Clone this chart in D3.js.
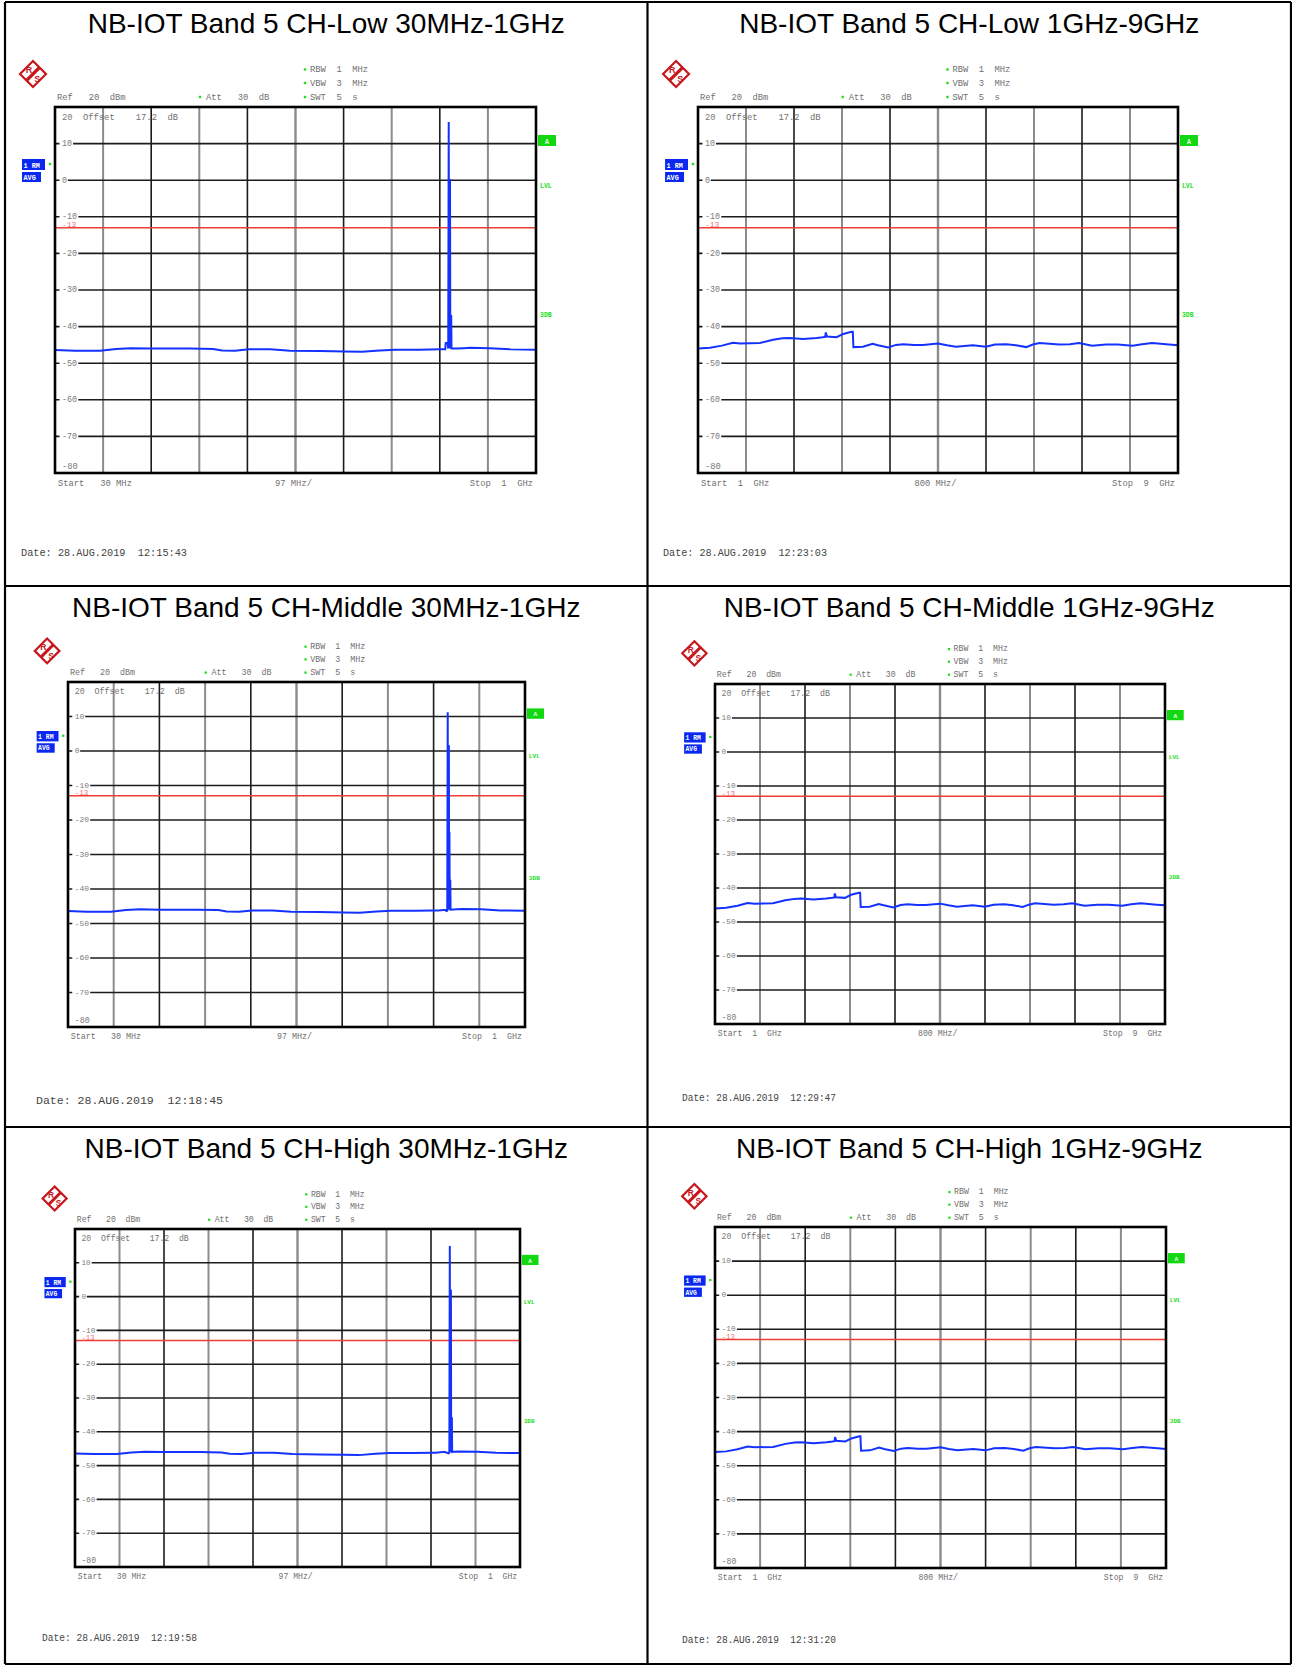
<!DOCTYPE html>
<html>
<head>
<meta charset="utf-8">
<script src="https://cdn.jsdelivr.net/npm/d3@7"></script>
<style>
  body { margin: 0; background: #fff; }
  text.pre { white-space: pre; }
</style>
</head>
<body>
<div id="chart"></div>
<script>
// ---- data ----
const titles = [
  'NB-IOT Band 5 CH-Low 30MHz-1GHz',
  'NB-IOT Band 5 CH-Low 1GHz-9GHz',
  'NB-IOT Band 5 CH-Middle 30MHz-1GHz',
  'NB-IOT Band 5 CH-Middle 1GHz-9GHz',
  'NB-IOT Band 5 CH-High 30MHz-1GHz',
  'NB-IOT Band 5 CH-High 1GHz-9GHz'
];
const dates = [
  'Date: 28.AUG.2019  12:15:43',
  'Date: 28.AUG.2019  12:23:03',
  'Date: 28.AUG.2019  12:18:45',
  'Date: 28.AUG.2019  12:29:47',
  'Date: 28.AUG.2019  12:19:58',
  'Date: 28.AUG.2019  12:31:20'
];

// [MHz, dBm] noise floor of the 30 MHz - 1 GHz sweeps
const lowBandFloor = [
  [30, -46.4], [70, -46.6], [121, -46.6], [153, -46.1], [183, -45.9], [222, -46.0],
  [302, -46.0], [349, -46.1], [367, -46.5], [393, -46.6], [421, -46.2], [464, -46.2],
  [504, -46.6], [564, -46.7], [615, -46.8], [649, -46.9], [685, -46.5], [716, -46.3],
  [766, -46.3], [806, -46.2], [816, -46.2], [832, -46.0], [837, -46.0], [855, -45.9],
  [867, -45.8], [907, -45.9], [948, -46.2], [1000, -46.3]
];
// [MHz, dBm] carrier region of each channel
const spikeLow = [
  [817, -46.2], [818, -44.5], [822, -44.5], [823, -46], [824, 15.9], [824.7, -46],
  [825.3, 0.3], [826, -46], [826.6, 0.3], [827.2, -46], [829, -36.8], [829.6, -46.0]
];
const spikeMid = [
  [833, -46.4], [835, -46.3], [836, 11.2], [836.6, -46], [837.2, 1.7], [837.8, -46],
  [838.4, 1.7], [839, -46], [839.6, -23.5], [840.2, -46], [841.4, -37.3], [842, -46.0]
];
const spikeHigh = [
  [844, -46.4], [846, -46.2], [847, 15.0], [847.6, -46], [848.2, 2.0], [848.8, -46],
  [849.4, 2.0], [850, -46], [851.5, -35.7], [852.1, -46.0]
];
// [GHz, dBm] 1 - 9 GHz sweep
const highBandTrace = [
  [1.0, -46.0], [1.2, -45.8], [1.4, -45.2], [1.58, -44.4], [1.7, -44.6], [2.03, -44.5],
  [2.25, -43.6], [2.41, -43.2], [2.53, -43.1], [2.75, -43.4], [2.98, -43.1], [3.08, -42.9],
  [3.12, -42.8], [3.13, -41.6], [3.15, -42.7], [3.31, -42.9], [3.42, -42.0], [3.56, -41.4],
  [3.58, -41.4], [3.59, -45.6], [3.75, -45.5], [3.91, -44.7], [4.0, -45.1], [4.17, -45.7],
  [4.3, -45.0], [4.42, -44.8], [4.6, -45.0], [4.75, -45.0], [5.0, -44.6], [5.15, -45.1],
  [5.3, -45.5], [5.58, -45.1], [5.8, -45.5], [5.95, -44.9], [6.14, -44.8], [6.3, -45.1],
  [6.47, -45.6], [6.58, -44.9], [6.69, -44.5], [7.02, -44.9], [7.2, -44.8], [7.35, -44.5],
  [7.57, -45.2], [7.8, -44.9], [8.0, -44.9], [8.24, -45.2], [8.4, -44.8], [8.57, -44.5],
  [8.85, -44.9], [9.0, -45.1]
];
const spikes = [spikeLow, null, spikeMid, null, spikeHigh, null];
const lowAxisText = ['Start   30 MHz', '97 MHz/', 'Stop  1  GHz'];
const highAxisText = ['Start  1  GHz', '800 MHz/', 'Stop  9  GHz'];
const levelTicks = [10, 0, -10, -20, -30, -40, -50, -60, -70];
const limitLevel = -13;

// ---- layout ----
const W = 1292, H = 1665;
const colX = [5, 647.5, 1291];
const rowY = [2, 586, 1127, 1664];
const panels = [
  {frame: [55, 107, 536, 473], date: [21, 556, 166]},
  {frame: [698, 107, 1178, 473], date: [663, 556, 164]},
  {frame: [68, 682, 525, 1027], date: [36, 1104, 187]},
  {frame: [715, 684, 1165, 1024], date: [682, 1101, 154]},
  {frame: [75, 1229, 520, 1567], date: [42, 1641, 155]},
  {frame: [715, 1227, 1166, 1568], date: [682, 1643, 154]}
];

const svg = d3.select('#chart').append('svg')
    .attr('width', W)
    .attr('height', H);
svg.append('rect').attr('width', W).attr('height', H).attr('fill', '#fff');

const mono = '"Liberation Mono", "DejaVu Sans Mono", monospace';
const gray = '#707070';
const green = '#22dd22';

const buildTrace = (i) => {
  if (i % 2 === 1) return highBandTrace;
  const sp = spikes[i];
  const lo = sp[0][0], hi = sp[sp.length - 1][0];
  return lowBandFloor.filter((d) => d[0] < lo)
      .concat(sp)
      .concat(lowBandFloor.filter((d) => d[0] > hi));
};

const drawPanel = (p, i) => {
  const [x0, y0, x1, y1] = p.frame;
  const sx = (x1 - x0) / 481;
  const sy = (y1 - y0) / 366;
  const isLow = i % 2 === 0;
  const col = i % 2, row = Math.floor(i / 2);
  const x = d3.scaleLinear().domain(isLow ? [30, 1000] : [1, 9]).range([x0, x1]);
  const y = d3.scaleLinear().domain([-80, 20]).range([y1, y0]);
  const rx = (v) => x0 + v * sx;
  const ry = (v) => y0 + v * sy;
  const fs = 8.8 * sx;
  const g = svg.append('g');

  const txt = (xx, yy, str, color, size, anchor) => g.append('text')
      .attr('class', 'pre')
      .attr('xml:space', 'preserve')
      .attr('x', xx).attr('y', yy)
      .attr('text-anchor', anchor || 'start')
      .attr('font-family', mono)
      .attr('font-size', size || fs)
      .attr('fill', color || gray)
      .text(str);
  const dot = (xx, yy) => g.append('rect')
      .attr('x', xx - 1.2 * sx).attr('y', yy - 1.2 * sx)
      .attr('width', 2.4 * sx).attr('height', 2.4 * sx)
      .attr('fill', green);

  // title
  g.append('text')
      .attr('x', (colX[col] + colX[col + 1]) / 2)
      .attr('y', rowY[row] + 31)
      .attr('text-anchor', 'middle')
      .attr('font-family', '"Liberation Sans", Arial, sans-serif')
      .attr('font-size', 28)
      .attr('fill', '#000')
      .text(titles[i]);

  // R&S logo
  const s = 13 * sx;
  const logo = g.append('g')
      .attr('transform', `translate(${rx(-22)},${ry(-33)})`);
  logo.append('path')
      .attr('d', `M0,${-s}L${s},0L0,${s}L${-s},0Z`)
      .attr('fill', '#fff').attr('stroke', '#c8161d').attr('stroke-width', 2.2);
  logo.append('line')
      .attr('x1', -s * 0.5).attr('y1', s * 0.5).attr('x2', s * 0.5).attr('y2', -s * 0.5)
      .attr('stroke', '#c8161d').attr('stroke-width', 3.2 * sx);
  logo.append('text').attr('x', -s * 0.3).attr('y', -s * 0.05)
      .attr('text-anchor', 'middle').attr('font-family', '"Liberation Sans", Arial')
      .attr('font-weight', 'bold').attr('font-size', 9 * sx).attr('fill', '#c8161d').text('R');
  logo.append('text').attr('x', s * 0.32).attr('y', s * 0.62)
      .attr('text-anchor', 'middle').attr('font-family', '"Liberation Sans", Arial')
      .attr('font-weight', 'bold').attr('font-size', 9 * sx).attr('fill', '#c8161d').text('S');

  // header settings
  dot(rx(250), ry(-37.5)); txt(rx(255), ry(-35), 'RBW  1  MHz');
  dot(rx(250), ry(-24)); txt(rx(255), ry(-21.5), 'VBW  3  MHz');
  txt(rx(2), ry(-7.5), 'Ref   20  dBm');
  dot(rx(145), ry(-10)); txt(rx(151), ry(-7.5), 'Att   30  dB');
  dot(rx(250), ry(-10)); txt(rx(255), ry(-7.5), 'SWT  5  s');

  // grid
  const dom = x.domain();
  const xGrid = d3.range(1, 10).map((k) => dom[0] + k * (dom[1] - dom[0]) / 10);
  g.append('g').selectAll('line').data(xGrid).join('line')
      .attr('x1', (d) => x(d)).attr('x2', (d) => x(d))
      .attr('y1', y0).attr('y2', y1)
      .attr('stroke', (d, k) => (k % 2 === 0 ? '#8c8c8c' : '#1c1c1c'))
      .attr('stroke-width', (d, k) => (k === 4 ? 2.4 : (k % 2 === 0 ? 2 : 1.6)));
  g.append('g').selectAll('line').data(levelTicks).join('line')
      .attr('x1', x0).attr('x2', x1)
      .attr('y1', (d) => y(d)).attr('y2', (d) => y(d))
      .attr('stroke', '#1c1c1c').attr('stroke-width', 1.6);

  // level labels inside the frame
  const pitch = fs * 0.6;
  const lab = g.append('g');
  levelTicks.forEach((v) => {
    const str = String(v);
    lab.append('rect')
        .attr('x', rx(4.5)).attr('y', y(v) - 3 * sy)
        .attr('width', 3 * sx + str.length * pitch).attr('height', 6 * sy)
        .attr('fill', '#fff');
    txt(rx(7), y(v) + 2.3 * sy, str, '#7a7a7a', fs * 0.95);
  });
  txt(rx(7), ry(12.5), '20', '#7a7a7a');
  txt(rx(28), ry(12.5), 'Offset    17.2  dB');
  txt(rx(7), y(-80) - 4 * sy, '-80', '#7a7a7a');

  // limit line
  g.append('line')
      .attr('x1', x0).attr('x2', x1)
      .attr('y1', y(limitLevel)).attr('y2', y(limitLevel))
      .attr('stroke', '#f03c32').attr('stroke-width', 1.5);
  txt(rx(7), y(limitLevel) - 0.6 * sy, String(limitLevel), '#f07272', fs * 0.9);

  // trace
  const line = d3.line().x((d) => x(d[0])).y((d) => y(d[1]));
  g.append('path')
      .datum(buildTrace(i))
      .attr('d', line)
      .attr('fill', 'none')
      .attr('stroke', '#1432ff')
      .attr('stroke-width', 2)
      .attr('stroke-linejoin', 'miter');

  // frame
  g.append('rect')
      .attr('x', x0).attr('y', y0)
      .attr('width', x1 - x0).attr('height', y1 - y0)
      .attr('fill', 'none').attr('stroke', '#000').attr('stroke-width', 2.6);

  // right side markers
  g.append('rect')
      .attr('x', rx(483)).attr('y', ry(28))
      .attr('width', 18 * sx).attr('height', 11 * sy)
      .attr('fill', '#12d812');
  txt(rx(492), ry(36.5), 'A', '#e8ffe8', 6.5 * sx, 'middle').attr('font-weight', 'bold');
  txt(rx(485), ry(81), 'LVL', green, 6.5 * sx).attr('font-weight', 'bold');
  txt(rx(485), ry(210), '3DB', green, 6.5 * sx).attr('font-weight', 'bold');

  // trace info boxes
  g.append('rect').attr('x', rx(-33)).attr('y', ry(52))
      .attr('width', 23 * sx).attr('height', 11 * sy).attr('fill', '#0a28f0');
  g.append('rect').attr('x', rx(-33)).attr('y', ry(65))
      .attr('width', 19 * sx).attr('height', 10 * sy).attr('fill', '#0a28f0');
  txt(rx(-31.5), ry(60.5), '1 RM', '#fff', 6.8 * sx).attr('font-weight', 'bold');
  txt(rx(-31.5), ry(72.5), 'AVG', '#fff', 6.8 * sx).attr('font-weight', 'bold');
  dot(rx(-5), ry(57));

  // frequency annotations
  const at = isLow ? lowAxisText : highAxisText;
  txt(rx(3), ry(379), at[0]);
  txt(rx(isLow ? 220 : 217), ry(379), at[1]);
  txt(rx(478), ry(379), at[2], gray, fs, 'end');

  // date
  const [dx, dy, dw] = p.date;
  txt(dx, dy, dates[i], '#444', 10)
      .attr('textLength', dw)
      .attr('lengthAdjust', 'spacingAndGlyphs');
};

panels.forEach(drawPanel);

// table borders
const borders = svg.append('g').attr('stroke', '#000').attr('stroke-width', 2.2);
colX.forEach((cx) => borders.append('line')
    .attr('x1', cx).attr('x2', cx).attr('y1', rowY[0]).attr('y2', rowY[3]));
rowY.forEach((ry) => borders.append('line')
    .attr('x1', colX[0]).attr('x2', colX[2]).attr('y1', ry).attr('y2', ry));
</script>
</body>
</html>
